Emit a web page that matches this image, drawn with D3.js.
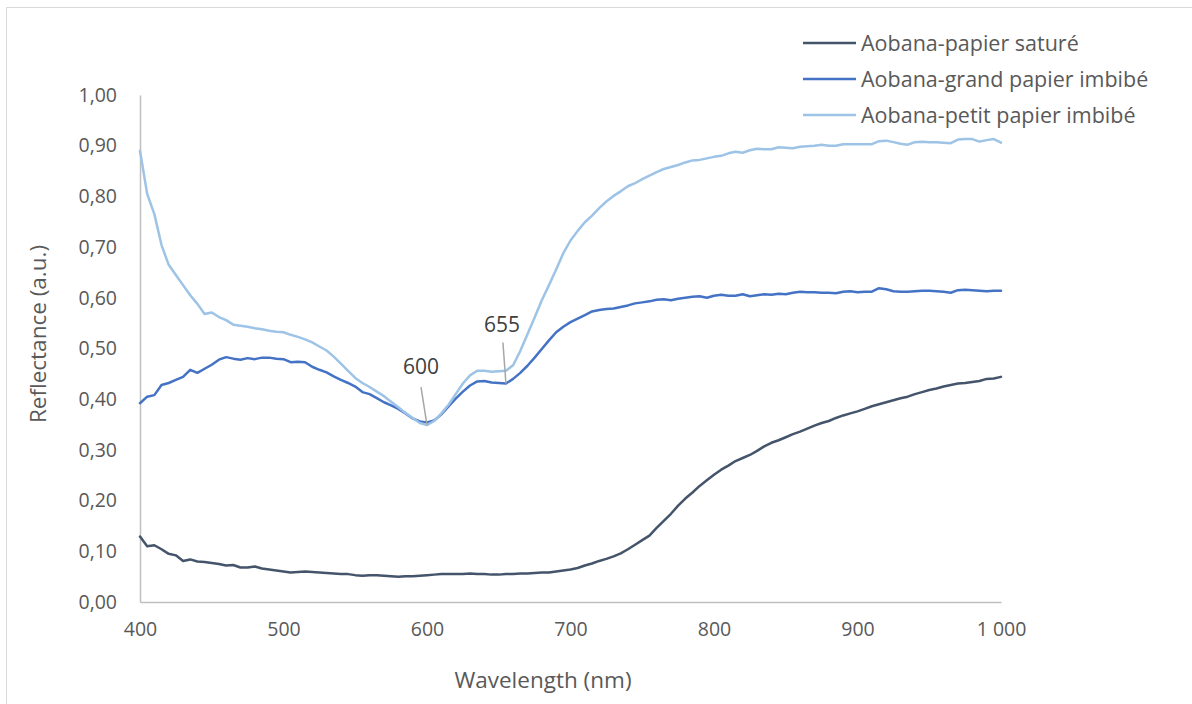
<!DOCTYPE html>
<html>
<head>
<meta charset="utf-8">
<script src="https://cdn.jsdelivr.net/npm/d3@7"></script>
<style>
  html, body { margin: 0; padding: 0; background: #ffffff; }
  svg { display: block; }
  text { font-family: "Open Sans", "Liberation Sans", sans-serif; }
</style>
</head>
<body>
<svg id="chart" width="1192" height="704"></svg>
<script>
// ---------- data ----------
const wavelengths = d3.range(400, 1001, 5);

const saturePapier = [
  0.129, 0.110, 0.112, 0.104, 0.095, 0.092, 0.081, 0.084, 0.080, 0.079,
  0.077, 0.075, 0.072, 0.073, 0.068, 0.068, 0.070, 0.066, 0.064, 0.062,
  0.060, 0.058, 0.059, 0.060, 0.059, 0.058, 0.057, 0.056, 0.055, 0.055,
  0.053, 0.052, 0.053, 0.053, 0.052, 0.051, 0.050, 0.051, 0.051, 0.052,
  0.053, 0.054, 0.055, 0.055, 0.055, 0.055, 0.056, 0.055, 0.055, 0.054,
  0.054, 0.055, 0.055, 0.056, 0.056, 0.057, 0.058, 0.058, 0.060, 0.062,
  0.064, 0.067, 0.072, 0.076, 0.081, 0.085, 0.090, 0.096, 0.104, 0.113,
  0.122, 0.131, 0.146, 0.160, 0.174, 0.190, 0.204, 0.216, 0.229, 0.240,
  0.251, 0.261, 0.269, 0.278, 0.284, 0.290, 0.298, 0.307, 0.314, 0.319,
  0.325, 0.331, 0.336, 0.342, 0.348, 0.353, 0.357, 0.363, 0.368, 0.372,
  0.376, 0.381, 0.386, 0.390, 0.394, 0.398, 0.402, 0.405, 0.410, 0.414,
  0.418, 0.421, 0.425, 0.428, 0.431, 0.432, 0.434, 0.436, 0.440, 0.441,
  0.444
];

const grandPapier = [
  0.392, 0.405, 0.408, 0.428, 0.432, 0.438, 0.444, 0.458, 0.452, 0.460,
  0.468, 0.478, 0.483, 0.480, 0.478, 0.481, 0.479, 0.482, 0.482, 0.480,
  0.479, 0.473, 0.474, 0.473, 0.464, 0.458, 0.453, 0.445, 0.438, 0.432,
  0.425, 0.414, 0.410, 0.402, 0.394, 0.388, 0.381, 0.372, 0.362, 0.356,
  0.354, 0.358, 0.370, 0.386, 0.401, 0.415, 0.427, 0.435, 0.436, 0.433,
  0.432, 0.431, 0.440, 0.452, 0.466, 0.482, 0.499, 0.516, 0.532, 0.543,
  0.552, 0.559, 0.566, 0.573, 0.576, 0.578, 0.579, 0.582, 0.585, 0.589,
  0.591, 0.593, 0.596, 0.597, 0.595, 0.598, 0.600, 0.602, 0.603, 0.600,
  0.604, 0.606, 0.604, 0.604, 0.607, 0.603, 0.605, 0.607, 0.606, 0.608,
  0.607, 0.610, 0.612, 0.611, 0.611, 0.610, 0.610, 0.609, 0.612, 0.613,
  0.611, 0.612, 0.612, 0.619, 0.617, 0.613, 0.612, 0.612, 0.613, 0.614,
  0.614, 0.613, 0.612, 0.610, 0.615, 0.616, 0.615, 0.614, 0.613, 0.614,
  0.614
];

const petitPapier = [
  0.890, 0.805, 0.765, 0.704, 0.665, 0.645, 0.625, 0.605, 0.588, 0.568,
  0.571, 0.562, 0.556, 0.547, 0.545, 0.543, 0.540, 0.538, 0.535, 0.533,
  0.532, 0.527, 0.523, 0.518, 0.512, 0.504, 0.496, 0.484, 0.470, 0.456,
  0.442, 0.432, 0.424, 0.415, 0.406, 0.395, 0.384, 0.373, 0.363, 0.353,
  0.349, 0.357, 0.372, 0.389, 0.410, 0.431, 0.447, 0.456, 0.456, 0.454,
  0.455, 0.456, 0.467, 0.495, 0.528, 0.561, 0.595, 0.625, 0.656, 0.688,
  0.713, 0.732, 0.749, 0.762, 0.777, 0.790, 0.801, 0.810, 0.820, 0.826,
  0.834, 0.841, 0.848, 0.854, 0.858, 0.862, 0.867, 0.871, 0.872, 0.875,
  0.878, 0.880, 0.885, 0.888, 0.886, 0.891, 0.894, 0.893, 0.893, 0.897,
  0.896, 0.895, 0.898, 0.899, 0.900, 0.902, 0.900, 0.900, 0.903, 0.903,
  0.903, 0.903, 0.903, 0.909, 0.910, 0.907, 0.904, 0.902, 0.907, 0.908,
  0.907, 0.907, 0.906, 0.905, 0.912, 0.913, 0.913, 0.908, 0.911, 0.913,
  0.906
];

const seriesNames = ["Aobana-papier saturé", "Aobana-grand papier imbibé", "Aobana-petit papier imbibé"];
const seriesColors = ["#44546a", "#4472c4", "#9dc3e6"];
const seriesValues = [saturePapier, grandPapier, petitPapier];

const xTicks = [400, 500, 600, 700, 800, 900, 1000];
const yTicks = [0, 0.1, 0.2, 0.3, 0.4, 0.5, 0.6, 0.7, 0.8, 0.9, 1.0];
const annotations = [600, 655]; // wavelengths of the marked points
const xTitle = "Wavelength (nm)";
const yTitle = "Reflectance (a.u.)";

// ---------- drawing ----------
const svg = d3.select("#chart");
const W = 1192, H = 704;

svg.append("rect").attr("x", 6.5).attr("y", 7.5).attr("width", W + 20).attr("height", H + 20)
  .attr("fill", "#ffffff").attr("stroke", "#d9d9d9").attr("stroke-width", 1);

const x = d3.scaleLinear().domain([400, 1000]).range([140, 1001]);
const y = d3.scaleLinear().domain([0, 1]).range([602, 95]);

const fmtY = v => v.toFixed(2).replace(".", ",");
const fmtX = v => v >= 1000 ? d3.format(",")(v).replace(",", " ") : String(v);

// y axis
const yAxis = svg.append("g").attr("transform", "translate(140,0)")
  .call(d3.axisLeft(y).tickValues(yTicks).tickSize(0).tickPadding(23).tickFormat(fmtY));
yAxis.select(".domain").attr("stroke", "#bfbfbf").attr("stroke-width", 1.5);
yAxis.selectAll("text").attr("fill", "#595959").style("font-size", "19.5px")
  .style("font-family", "'Open Sans', sans-serif");

// x axis
const xAxis = svg.append("g").attr("transform", "translate(0,602)")
  .call(d3.axisBottom(x).tickValues(xTicks).tickSize(0).tickPadding(20).tickFormat(fmtX));
xAxis.select(".domain").attr("stroke", "#bfbfbf").attr("stroke-width", 1.5);
xAxis.selectAll("text").attr("fill", "#595959").style("font-size", "19.5px")
  .style("font-family", "'Open Sans', sans-serif");

// axis titles
svg.append("text").attr("x", 543).attr("y", 688).attr("text-anchor", "middle")
  .attr("fill", "#595959").style("font-size", "22.5px").text(xTitle);
svg.append("text").attr("transform", "translate(46,334) rotate(-90)").attr("text-anchor", "middle")
  .attr("fill", "#595959").style("font-size", "22.5px").text(yTitle);

// lines
const line = d3.line().x((d, i) => x(wavelengths[i])).y(d => y(d));
seriesValues.forEach((vals, k) => {
  svg.append("path").datum(vals).attr("d", line)
    .attr("fill", "none").attr("stroke", seriesColors[k]).attr("stroke-width", 2.5)
    .attr("stroke-linejoin", "round").attr("stroke-linecap", "round");
});

// annotations with leader lines
const labelOffsets = { 600: { lx: -6, ly: -38, tx: -6, ty: -51 }, 655: { lx: -3, ly: -41, tx: -4, ty: -51 } };
annotations.forEach(wl => {
  const i = wavelengths.indexOf(wl);
  const px = x(wl);
  const py = y(Math.min(grandPapier[i], petitPapier[i]));
  const o = labelOffsets[wl];
  svg.append("line").attr("x1", px).attr("y1", py).attr("x2", px + o.lx).attr("y2", py + o.ly)
    .attr("stroke", "#a6a6a6").attr("stroke-width", 1.5);
  svg.append("text").attr("x", px + o.tx).attr("y", py + o.ty).attr("text-anchor", "middle")
    .attr("fill", "#404040").style("font-size", "21px").text(String(wl));
});

// legend
const legend = svg.append("g").attr("transform", "translate(803,43)");
seriesNames.forEach((name, k) => {
  const g = legend.append("g").attr("transform", `translate(0,${k * 36})`);
  g.append("line").attr("x1", 0).attr("x2", 53).attr("y1", 0).attr("y2", 0)
    .attr("stroke", seriesColors[k]).attr("stroke-width", 2.5);
  g.append("text").attr("x", 58).attr("y", 0).attr("dy", "0.35em")
    .attr("fill", "#595959").style("font-size", "21.5px").text(name);
});
</script>
</body>
</html>
